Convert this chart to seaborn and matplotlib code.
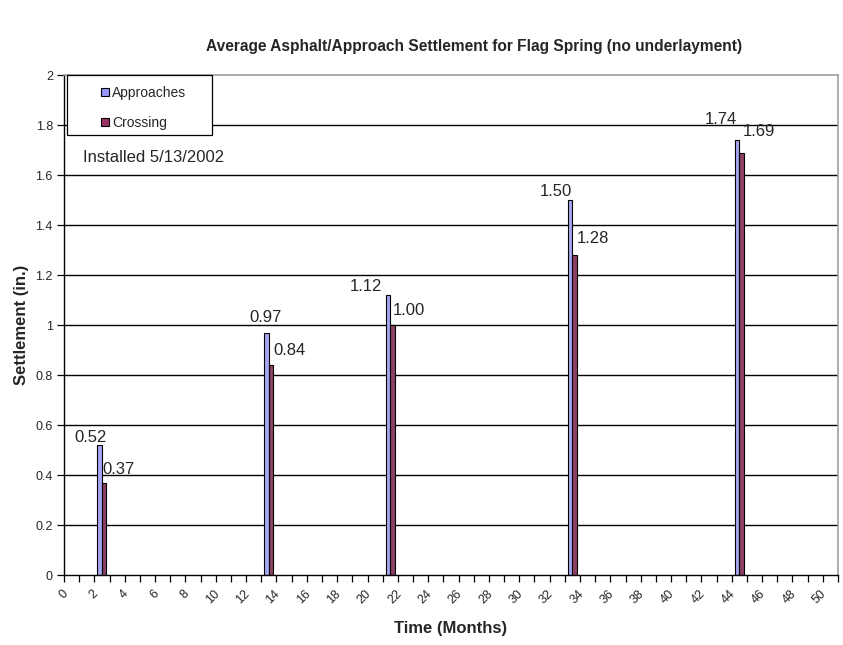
import numpy as np
import pandas as pd
import matplotlib
matplotlib.use("Agg")
import matplotlib.pyplot as plt
import matplotlib.transforms as mtransforms
from matplotlib.patches import Rectangle
import seaborn as sns

# Survey months and average settlement (in.)
months = [2, 13, 21, 33, 44]
approaches = [0.52, 0.97, 1.12, 1.50, 1.74]
crossing = [0.37, 0.84, 1.00, 1.28, 1.69]
series_names = ["Approaches", "Crossing"]
colors = ["#9999FF", "#993366"]
all_months = list(range(0, 51))
y_ticks = [0, 0.2, 0.4, 0.6, 0.8, 1, 1.2, 1.4, 1.6, 1.8, 2]
y_tick_labels = ["0", "0.2", "0.4", "0.6", "0.8", "1", "1.2", "1.4", "1.6", "1.8", "2"]

# hand-placed value label nudges (pixels): horizontal, height above bar top
approach_nudge = [(5, 3), (13, 11), (-8, 4), (0, 4), (-2, 16)]
crossing_nudge = [(-4, 8), (0, 10), (-2, 10), (0, 12), (-1, 16)]

df = pd.DataFrame({
    "month": months * 2,
    "value": approaches + crossing,
    "series": [series_names[0]] * len(months) + [series_names[1]] * len(months),
})

sns.set_theme(style="white")
plt.rcParams["font.family"] = ["Liberation Sans", "DejaVu Sans"]

DPI = 100
PX = 72 / DPI  # points per pixel

fig = plt.figure(figsize=(8.43, 6.45), dpi=DPI)
ax = fig.add_axes([64 / 843, 1 - 575 / 645, (838 - 64) / 843, (575 - 75) / 645])

sns.barplot(
    data=df, x="month", y="value", hue="series", order=all_months,
    hue_order=series_names, palette=colors, width=0.6, dodge=True,
    edgecolor="black", linewidth=0.8, ax=ax, legend=False,
)

ax.set_xlim(-0.5, 50.5)
ax.set_ylim(0, 2)

# horizontal gridlines
for y in y_ticks[1:-1]:
    ax.axhline(y, color="black", linewidth=1.0, zorder=0)

ax.set_yticks(y_ticks)
ax.set_yticklabels(y_tick_labels, fontsize=9)
ax.tick_params(axis="y", direction="out", length=5, width=0.9, color="black", left=True, pad=3)

# category boundaries as tick marks, labels on even months
ax.set_xticks(np.arange(-0.5, 51, 1), minor=True)
ax.set_xticks(all_months[::2])
ax.set_xticklabels([str(m) for m in all_months[::2]], rotation=45, ha="right",
                   va="top", fontsize=9)
ax.tick_params(axis="x", which="major", length=0, pad=9)
ax.tick_params(axis="x", which="minor", direction="out", length=5, width=0.9,
               color="black", bottom=True)
shift = mtransforms.ScaledTranslation(-1.5 / DPI, 0, fig.dpi_scale_trans)
for lbl in ax.get_xticklabels():
    lbl.set_transform(lbl.get_transform() + shift)

for side in ["left", "bottom"]:
    ax.spines[side].set_color("black")
    ax.spines[side].set_linewidth(1.0)
for side in ["top", "right"]:
    ax.spines[side].set_color("#A0A0A0")
    ax.spines[side].set_linewidth(1.2)

ax.set_xlabel("Time (Months)", fontsize=12, fontweight="bold", labelpad=11)
ax.set_ylabel("Settlement (in.)", fontsize=12, fontweight="bold", labelpad=5)
fig.text(474 / 843, 1 - 47 / 645,
         "Average Asphalt/Approach Settlement for Flag Spring (no underlayment)",
         ha="center", va="center", fontsize=11.2, fontweight="bold")

# value labels beside the bars
bars_a = sorted(ax.containers[0], key=lambda b: b.get_x())
bars_c = sorted(ax.containers[1], key=lambda b: b.get_x())
for bar, v, (dx, dy) in zip(bars_a, approaches, approach_nudge):
    ax.annotate(f"{v:.2f}", xy=(bar.get_x() + bar.get_width(), v),
                xytext=(dx * PX, dy * PX), textcoords="offset points",
                ha="right", va="baseline", fontsize=12)
for bar, v, (dx, dy) in zip(bars_c, crossing, crossing_nudge):
    ax.annotate(f"{v:.2f}", xy=(bar.get_x() + bar.get_width(), v),
                xytext=(dx * PX, dy * PX), textcoords="offset points",
                ha="left", va="baseline", fontsize=12)

ax.text(0.75, 1.652, "Installed 5/13/2002", ha="left", va="baseline", fontsize=12)

# legend box
ax.add_patch(Rectangle((3 / 774, 1 - 60 / 500), (212 - 67) / 774, 60 / 500,
                       transform=ax.transAxes, facecolor="white",
                       edgecolor="black", linewidth=0.9, zorder=5, clip_on=False))
handles = [Rectangle((0, 0), 1, 1, facecolor=c, edgecolor="black", linewidth=0.8)
           for c in colors]
leg = ax.legend(handles, series_names, loc="upper left",
                bbox_to_anchor=((101 - 64) / 774, 1 - 11 / 500), fontsize=10,
                frameon=False, borderpad=0, labelspacing=1.15, handlelength=0.55,
                handleheight=0.55, handletextpad=0.25, borderaxespad=0)
leg.set_zorder(6)

fig.savefig("out.png", dpi=DPI, facecolor="white")
